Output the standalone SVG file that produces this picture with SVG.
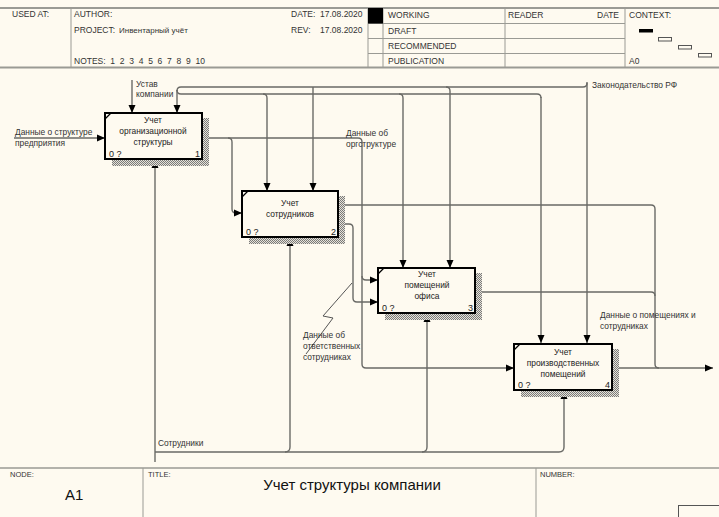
<svg xmlns="http://www.w3.org/2000/svg" width="719" height="517" viewBox="0 0 719 517">
<defs>
<pattern id="hatch" width="2" height="2" patternUnits="userSpaceOnUse">
<rect width="2" height="2" fill="#e6e2d8"/>
<rect x="0" y="0" width="1" height="1" fill="#7a7a7a"/>
<rect x="1" y="1" width="1" height="1" fill="#7a7a7a"/>
</pattern>
<marker id="arr" viewBox="0 0 8 8" refX="8" refY="4" markerWidth="8" markerHeight="8" markerUnits="userSpaceOnUse" orient="auto">
<path d="M0,0.5 L8,4 L0,7.5 Z" fill="#000"/>
</marker>
</defs>
<style>
text{font-family:"Liberation Sans",Arial,sans-serif;fill:#333}
.h{font-size:8.5px}
.s{font-size:8px}
.bt{font-size:8.4px;text-anchor:middle;fill:#222}
.n{font-size:9px;fill:#222}
.lbl{font-size:8.4px;fill:#333}
.frame{stroke:#9a9a94;stroke-width:1;fill:none}
.box{fill:#fefaf0;stroke:#000;stroke-width:2}
.c{fill:none;stroke:#6a6a66;stroke-width:1.4}
.ca{fill:none;stroke:#6a6a66;stroke-width:1.4;marker-end:url(#arr)}
</style>
<rect width="719" height="517" fill="#fefaf0"/>
<g id="header">
<line x1="0" y1="8" x2="719" y2="8" stroke="#9a9a94" stroke-width="2"/>
<line x1="0" y1="67.5" x2="719" y2="67.5" stroke="#9a9a94" stroke-width="2"/>
<line class="frame" x1="71" y1="8" x2="71" y2="68"/>
<line class="frame" x1="368" y1="8" x2="368" y2="68"/>
<line class="frame" x1="383" y1="8" x2="383" y2="68"/>
<line class="frame" x1="505" y1="8" x2="505" y2="68"/>
<line class="frame" x1="625" y1="8" x2="625" y2="68"/>
<line class="frame" x1="368" y1="23.5" x2="625" y2="23.5"/>
<line class="frame" x1="368" y1="38.5" x2="625" y2="38.5"/>
<line class="frame" x1="368" y1="53.5" x2="625" y2="53.5"/>
<rect x="368" y="8" width="15" height="15.5" fill="#000"/>
<text class="h" x="12" y="17">USED AT:</text>
<text class="h" x="74" y="17">AUTHOR:</text>
<text class="h" x="74" y="33">PROJECT:</text>
<text class="s" x="119" y="33">Инвентарный учёт</text>
<text class="h" x="74" y="64" xml:space="preserve">NOTES:  1  2  3  4  5  6  7  8  9  10</text>
<text class="h" x="291" y="17">DATE:</text>
<text class="h" x="320" y="17">17.08.2020</text>
<text class="h" x="291" y="33">REV:</text>
<text class="h" x="320" y="33">17.08.2020</text>
<text class="h" x="388" y="18">WORKING</text>
<text class="h" x="388" y="34">DRAFT</text>
<text class="h" x="388" y="49">RECOMMENDED</text>
<text class="h" x="388" y="64">PUBLICATION</text>
<text class="h" x="508" y="18">READER</text>
<text class="h" x="597" y="18">DATE</text>
<text class="h" x="629" y="18">CONTEXT:</text>
<text class="h" x="629" y="64">A0</text>
<rect x="639" y="29" width="14" height="3.5" fill="#000"/>
<rect x="658.5" y="37.5" width="13" height="3.5" fill="none" stroke="#555" stroke-width="1"/>
<rect x="678.5" y="45.5" width="13" height="3.5" fill="none" stroke="#555" stroke-width="1"/>
<rect x="698.5" y="53.5" width="13" height="3.5" fill="none" stroke="#555" stroke-width="1"/>
</g>
<g id="connectors">
<path class="ca" d="M14 138 H105"/>
<path class="ca" d="M132 80 V113"/>
<path class="ca" d="M587 82 V343"/>
<path class="c" d="M587 83 Q587 87 583 87 H181 Q177 87 177 91"/>
<path class="ca" d="M177 90 V113"/>
<path class="ca" d="M313 87 V191"/>
<path class="ca" d="M446 87 Q450 87 450 91 V268"/>
<path class="c" d="M177 90 Q177 94 181 94 H537 Q541 94 541 98"/>
<path class="ca" d="M541 97 V343"/>
<path class="ca" d="M263 94 Q267 94 267 98 V191"/>
<path class="ca" d="M399 94 Q403 94 403 98 V268"/>
<path class="ca" d="M202 138 H228 Q232 138 232 142 V209 Q232 213 236 213 H242"/>
<path class="ca" d="M228 138 H358 Q362 138 362 142 V364 Q362 368 366 368 H514"/>
<path class="ca" d="M362 276 Q362 280 366 280 H378"/>
<path class="ca" d="M338 224 H349 Q353 224 353 228 V298 Q353 302 357 302 H378"/>
<path class="c" d="M338 205 H651 Q655 205 655 209 V364 Q655 368 659 368"/>
<path class="c" d="M475 292 H651 Q655 292 655 296"/>
<path class="ca" d="M612 368 H713"/>
<path class="ca" d="M155 462 V160"/>
<path class="ca" d="M155 452 H559 Q564 452 564 447 V391"/>
<path class="ca" d="M285 452 Q290 452 290 447 V238"/>
<path class="ca" d="M422 452 Q427 452 427 447 V314"/>
<polyline points="352,283 323,316 333,318 306,354" fill="none" stroke="#555" stroke-width="1"/>
<text class="lbl" x="15" y="135">Данные о структуре</text>
<text class="lbl" x="15" y="146">предприятия</text>
<text class="lbl" x="136" y="87">Устав</text>
<text class="lbl" x="136" y="97">компании</text>
<text class="lbl" x="592" y="88">Законодательство РФ</text>
<text class="lbl" x="346" y="136">Данные об</text>
<text class="lbl" x="346" y="147">оргструктуре</text>
<text class="lbl" x="303" y="338">Данные об</text>
<text class="lbl" x="303" y="349">ответственных</text>
<text class="lbl" x="303" y="360">сотрудниках</text>
<text class="lbl" x="600" y="318">Данные о помещениях и</text>
<text class="lbl" x="600" y="329">сотрудниках</text>
<text class="lbl" x="158" y="446">Сотрудники</text>
</g>
<g id="box1">
<rect x="202" y="118" width="7" height="48" fill="url(#hatch)"/>
<rect x="112" y="159" width="97" height="7" fill="url(#hatch)"/>
<rect class="box" x="105" y="113" width="97" height="46"/>
<line x1="105" y1="119" x2="111" y2="113" stroke="#000" stroke-width="1.2"/>
<text class="bt" x="153" y="123">Учет</text>
<text class="bt" x="153" y="134">организационной</text>
<text class="bt" x="153" y="145">структуры</text>
<text class="n" x="109" y="157">0 ?</text>
<text class="n" x="195" y="157">1</text>
</g>
<g id="box2">
<rect x="338" y="196" width="7" height="48" fill="url(#hatch)"/>
<rect x="249" y="237" width="96" height="7" fill="url(#hatch)"/>
<rect class="box" x="242" y="191" width="96" height="46"/>
<line x1="242" y1="197" x2="248" y2="191" stroke="#000" stroke-width="1.2"/>
<text class="bt" x="290" y="206">Учет</text>
<text class="bt" x="290" y="217">сотрудников</text>
<text class="n" x="246" y="235">0 ?</text>
<text class="n" x="331" y="235">2</text>
</g>
<g id="box3">
<rect x="475" y="273" width="7" height="47" fill="url(#hatch)"/>
<rect x="385" y="313" width="97" height="7" fill="url(#hatch)"/>
<rect class="box" x="378" y="268" width="97" height="45"/>
<line x1="378" y1="274" x2="384" y2="268" stroke="#000" stroke-width="1.2"/>
<text class="bt" x="427" y="277">Учет</text>
<text class="bt" x="427" y="288">помещений</text>
<text class="bt" x="427" y="299">офиса</text>
<text class="n" x="382" y="311">0 ?</text>
<text class="n" x="468" y="311">3</text>
</g>
<g id="box4">
<rect x="612" y="349" width="7" height="48" fill="url(#hatch)"/>
<rect x="521" y="390" width="98" height="7" fill="url(#hatch)"/>
<rect class="box" x="514" y="344" width="98" height="46"/>
<line x1="514" y1="350" x2="520" y2="344" stroke="#000" stroke-width="1.2"/>
<text class="bt" x="563" y="355">Учет</text>
<text class="bt" x="563" y="366">производственных</text>
<text class="bt" x="563" y="377">помещений</text>
<text class="n" x="518" y="388">0 ?</text>
<text class="n" x="605" y="388">4</text>
</g>
<g id="footer">
<line x1="0" y1="468" x2="719" y2="468" stroke="#9a9a94" stroke-width="1.5"/>
<line class="frame" x1="143" y1="468" x2="143" y2="517"/>
<line class="frame" x1="536" y1="468" x2="536" y2="517"/>
<text x="10" y="477" style="font-size:7.5px">NODE:</text>
<text x="65" y="500" style="font-size:15px;fill:#111">A1</text>
<text x="148" y="477" style="font-size:7.5px">TITLE:</text>
<text x="352" y="490" style="font-size:15px;fill:#111;text-anchor:middle">Учет структуры компании</text>
<text x="540" y="477" style="font-size:7.5px">NUMBER:</text>
<rect x="678.5" y="505.5" width="45" height="15" fill="none" stroke="#555" stroke-width="1"/>
</g>
</svg>
